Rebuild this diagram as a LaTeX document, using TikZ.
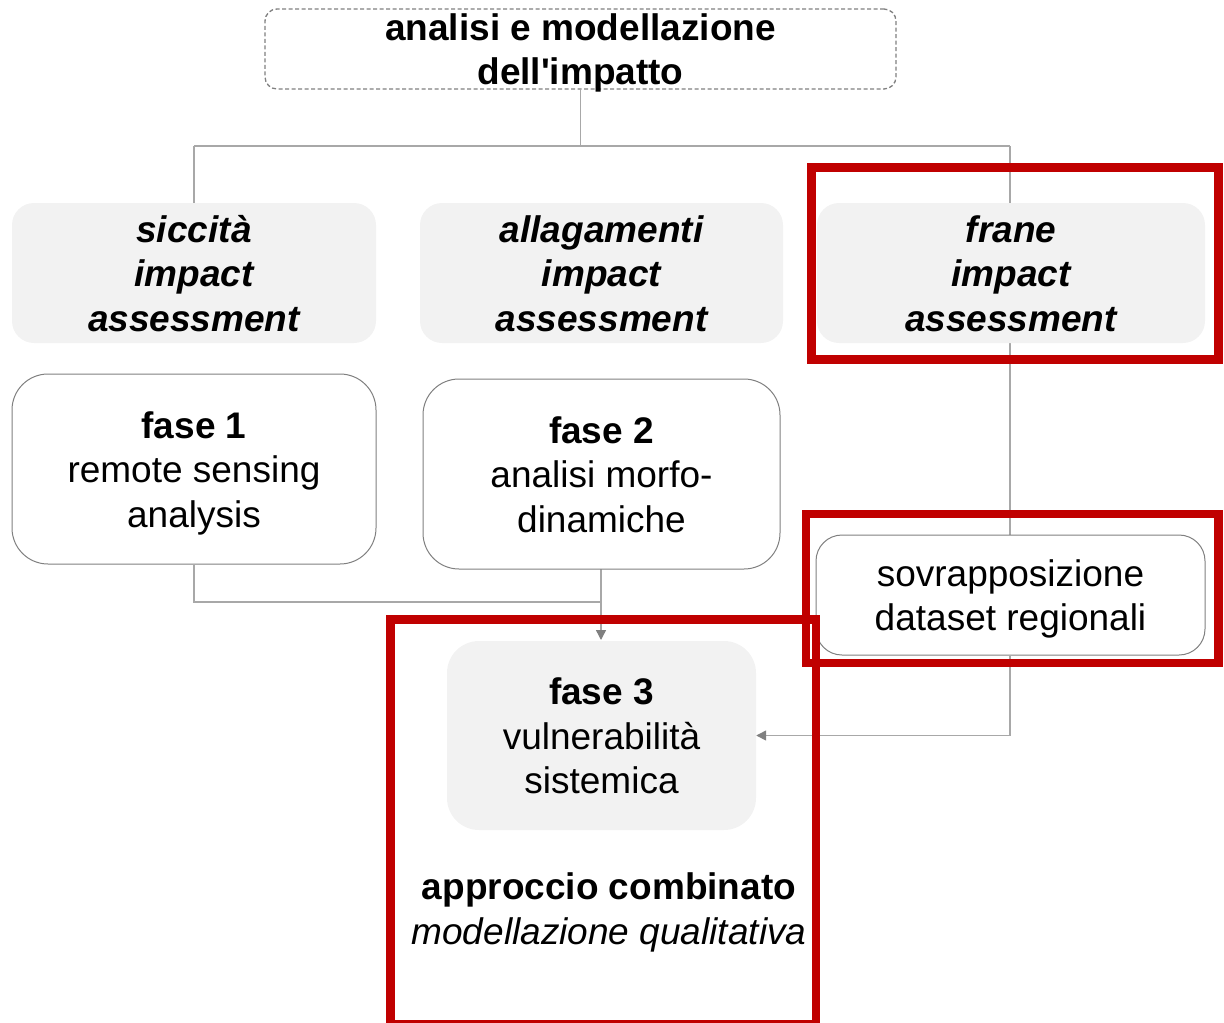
\documentclass[tikz,border=0pt]{standalone}
\usepackage{fontspec}
\setmainfont{Liberation Sans}
\usetikzlibrary{arrows.meta,backgrounds}
\definecolor{boxfill}{HTML}{F2F2F2}
\definecolor{linegray}{HTML}{A8A8A8}
\definecolor{tipgray}{HTML}{808080}
\definecolor{framered}{HTML}{C00000}
% struts that fix the height of the first and the depth of the last line
\newcommand\firstln{\rule{0pt}{35pt}}
\newcommand\lastln{\rule[-8pt]{0pt}{0pt}}
\begin{document}
\begin{tikzpicture}[x=1pt,y=-1pt,
  txt/.style={font=\fontsize{37}{44.5}\selectfont, align=center, text=black, inner sep=0pt},
  headbox/.style={txt, draw=tipgray, line width=1.3pt, dash pattern=on 4pt off 2.5pt, rounded corners=12pt, inner ysep=-4pt},
  hazardbox/.style={txt, fill=boxfill, rounded corners=22pt, font=\fontsize{37}{44.5}\selectfont\bfseries\itshape},
  phasebox/.style={txt, draw=tipgray, line width=1pt, fill=white, rounded corners=36pt},
  combobox/.style={txt, fill=boxfill, rounded corners=32pt},
  link/.style={draw=linegray, line width=1.4pt},
  arrowlink/.style={link, -{Triangle[length=10pt,width=10pt,fill=tipgray,color=tipgray]}},
  highlight/.style={draw=framered, line width=8.5pt}
]
\useasboundingbox (0,0) rectangle (1224,1023);

% header
\node[headbox, minimum width=631pt, minimum height=80pt] (head) at (580.5,49)
  {\bfseries\firstln analisi e modellazione\\\bfseries dell\textquotesingle impatto\lastln};

% hazard impact assessments
\node[hazardbox, minimum width=364pt, minimum height=140pt] (sic) at (194,273)
  {\firstln siccità\\impact\\assessment\lastln};
\node[hazardbox, minimum width=363pt, minimum height=140pt] (all) at (601.5,273)
  {\firstln allagamenti\\impact\\assessment\lastln};
\node[hazardbox, minimum width=388pt, minimum height=140pt] (fra) at (1011,273)
  {\firstln frane\\impact\\assessment\lastln};

% phases
\node[phasebox, minimum width=364pt, minimum height=190pt] (f1) at (194,469)
  {\bfseries\firstln fase 1\\remote sensing\\analysis\lastln};
\node[phasebox, minimum width=357pt, minimum height=190pt] (f2) at (601.5,474)
  {\bfseries\firstln fase 2\\analisi morfo-\\dinamiche\lastln};
\node[phasebox, rounded corners=26pt, minimum width=389pt, minimum height=120pt] (sov) at (1010.5,595)
  {\firstln sovrapposizione\\dataset regionali\lastln};
\node[combobox, minimum width=309pt, minimum height=189pt] (f3) at (601.5,735.5)
  {\bfseries\firstln fase 3\\vulnerabilità\\sistemica\lastln};
\node[txt] (appr) at (609,908.5)
  {\bfseries\firstln approccio combinato\\\itshape modellazione qualitativa\lastln};

% connectors
\begin{scope}[on background layer]
  \coordinate (bus) at (580.5,146);
  \coordinate (busL) at (194,146);
  \coordinate (busR) at (1010,146);
  \draw[link] (head.south) -- (bus);
  \draw[link] (busL) -- (busR);
  \draw[link] (busL) -- (sic.north);
  \draw[link] (busR) -- (busR |- fra.north);
  \draw[link] (busR |- fra.south) -- (busR |- sov.north);
  \coordinate (join) at (601,602);
  \draw[link] (f1.south) |- (join);
  \draw[arrowlink] (601,569) -- (601,640);
  \draw[arrowlink] (busR |- sov.south) |- (f3.east);
\end{scope}

% highlight frames
\draw[highlight] (811.5,167.5) rectangle (1218.5,359.5);
\draw[highlight] (806,514) rectangle (1218.5,663);
\draw[highlight] (390.5,619.5) rectangle (816,1024);
\end{tikzpicture}
\end{document}
